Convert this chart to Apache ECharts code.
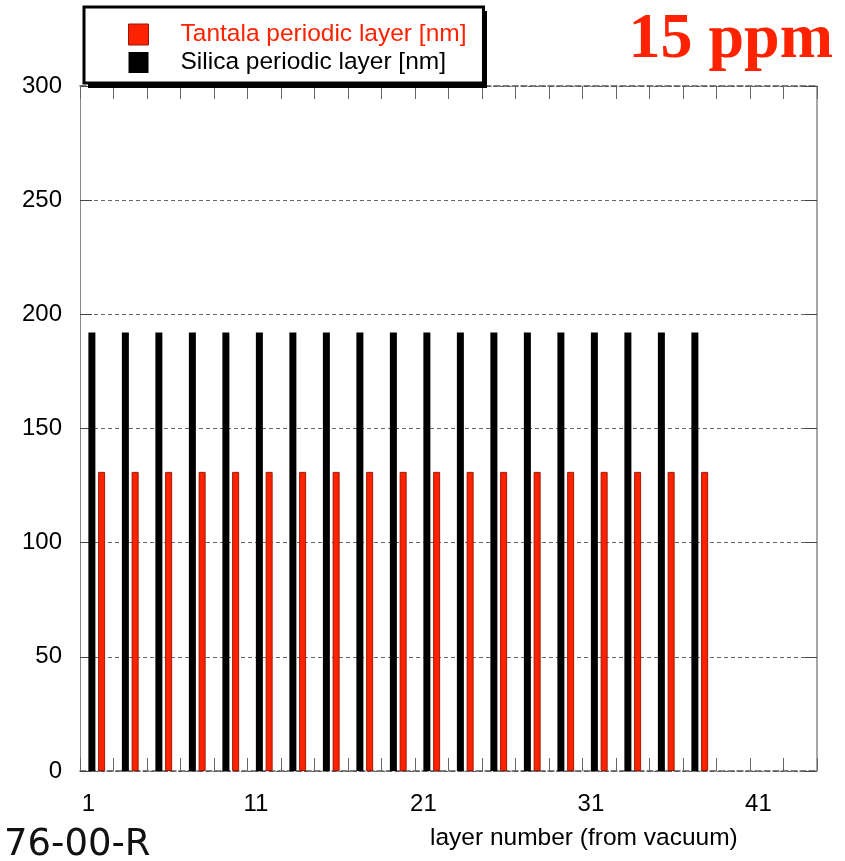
<!DOCTYPE html>
<html>
<head>
  <meta charset="utf-8">
  <title>15 ppm periodic layers</title>
  <script src="https://cdn.jsdelivr.net/npm/echarts@6/dist/echarts.min.js"></script>
  <style>
    html, body { margin: 0; padding: 0; background: #fff; }
    #chart { width: 845px; height: 861px; }
  </style>
</head>
<body>
  <div id="chart"></div>
  <script>
    // layer numbers on the x axis (1..44)
    var layers = ['1', '2', '3', '4', '5', '6', '7', '8', '9', '10', '11', '12', '13', '14', '15', '16', '17', '18', '19', '20', '21', '22',
                  '23', '24', '25', '26', '27', '28', '29', '30', '31', '32', '33', '34', '35', '36', '37', '38', '39', '40', '41', '42', '43', '44'];

    // thickness per layer in nm, '-' where the layer is the other material
    // silica on odd layers 1..37, tantala on even layers 2..38
    var silica  = [192, '-', 192, '-', 192, '-', 192, '-', 192, '-',   // 1-10
                   192, '-', 192, '-', 192, '-', 192, '-', 192, '-',   // 11-20
                   192, '-', 192, '-', 192, '-', 192, '-', 192, '-',   // 21-30
                   192, '-', 192, '-', 192, '-', 192, '-', '-', '-',   // 31-40
                   '-', '-', '-', '-'];                                // 41-44
    var tantala = ['-', 131, '-', 131, '-', 131, '-', 131, '-', 131,
                   '-', 131, '-', 131, '-', 131, '-', 131, '-', 131,
                   '-', 131, '-', 131, '-', 131, '-', 131, '-', 131,
                   '-', 131, '-', 131, '-', 131, '-', 131, '-', '-',
                   '-', '-', '-', '-'];

    var RED = '#ff2200';
    var FONT = 'Liberation Sans, Arial, sans-serif';

    var chart = echarts.init(document.getElementById('chart'), null, { renderer: 'canvas' });

    var option = {
      animation: false,
      backgroundColor: '#fff',
      grid: { left: 80, right: 28, top: 86, bottom: 90 },
      legend: {
        left: 84, top: 7, z: 10,
        orient: 'vertical',
        padding: [15, 17, 8, 44],
        itemWidth: 20, itemHeight: 21, itemGap: 3,
        backgroundColor: '#fff',
        borderColor: '#000', borderWidth: 3,
        textStyle: { fontFamily: FONT, fontSize: 24.5, padding: [0, 0, 0, 27] },
        data: [
          { name: 'Tantala periodic layer [nm]', icon: 'rect', textStyle: { color: RED },
            itemStyle: { color: RED, borderColor: '#9a1500', borderWidth: 1 } },
          { name: 'Silica periodic layer [nm]', icon: 'rect', textStyle: { color: '#000' },
            itemStyle: { color: '#000' } }
        ]
      },
      xAxis: [
        {
          type: 'category', data: layers, position: 'bottom',
          axisLine: { onZero: false, lineStyle: { color: '#555', type: 'dashed', width: 1.5 } },
          axisTick: { show: true, inside: true, length: 13, interval: 1, lineStyle: { color: '#666', width: 1 } },
          axisLabel: {
            margin: 21, color: '#000', fontFamily: FONT, fontSize: 24,
            interval: function (idx) { return idx % 10 === 0; }
          },
          splitLine: { show: false }
        },
        {
          type: 'category', data: layers, position: 'top',
          axisLine: { onZero: false, lineStyle: { color: '#555', type: 'dashed', width: 1.5 } },
          axisTick: { show: true, inside: true, length: 13, interval: 1, lineStyle: { color: '#666', width: 1 } },
          axisLabel: { show: false },
          splitLine: { show: false }
        }
      ],
      yAxis: [
        {
          type: 'value', min: 0, max: 300, interval: 50, position: 'left',
          axisLine: { show: true, onZero: false, lineStyle: { color: '#888', width: 1 } },
          axisTick: { show: true, inside: true, length: 12, lineStyle: { color: '#444' } },
          axisLabel: { margin: 18, color: '#000', fontFamily: FONT, fontSize: 24 },
          splitLine: { show: true, lineStyle: { color: '#666', type: [4, 3], width: 1 } }
        },
        {
          type: 'value', min: 0, max: 300, interval: 50, position: 'right',
          axisLine: { show: true, onZero: false, lineStyle: { color: '#888', width: 1.5 } },
          axisTick: { show: true, inside: true, length: 12, lineStyle: { color: '#444' } },
          axisLabel: { show: false },
          splitLine: { show: false }
        }
      ],
      series: [
        {
          name: 'Tantala periodic layer [nm]', type: 'bar', data: tantala,
          barWidth: 7, barGap: '0%',
          itemStyle: { color: RED, borderColor: '#a01800', borderWidth: 1 }
        },
        {
          name: 'Silica periodic layer [nm]', type: 'bar', data: silica,
          barWidth: 7, barGap: '0%',
          itemStyle: { color: '#000' }
        }
      ],
      graphic: [
        {
          // drop shadow behind the legend box
          type: 'rect', z: 5, shape: { x: 88, y: 11, width: 399, height: 77 },
          style: { fill: '#000' }
        },
        {
          type: 'text', right: 12, top: 8,
          style: { text: '15 ppm', fill: RED, font: 'bold 64px "Liberation Serif", "Times New Roman", serif' }
        },
        {
          type: 'text', left: 4, top: 827,
          style: { text: '76-00-R', fill: '#111', font: '37px "DejaVu Sans", sans-serif' }
        },
        {
          type: 'text', left: 430, top: 826,
          style: { text: 'layer number (from vacuum)', fill: '#000', font: '24.5px "Liberation Sans", Arial, sans-serif' }
        }
      ]
    };

    chart.setOption(option);
  </script>
</body>
</html>
